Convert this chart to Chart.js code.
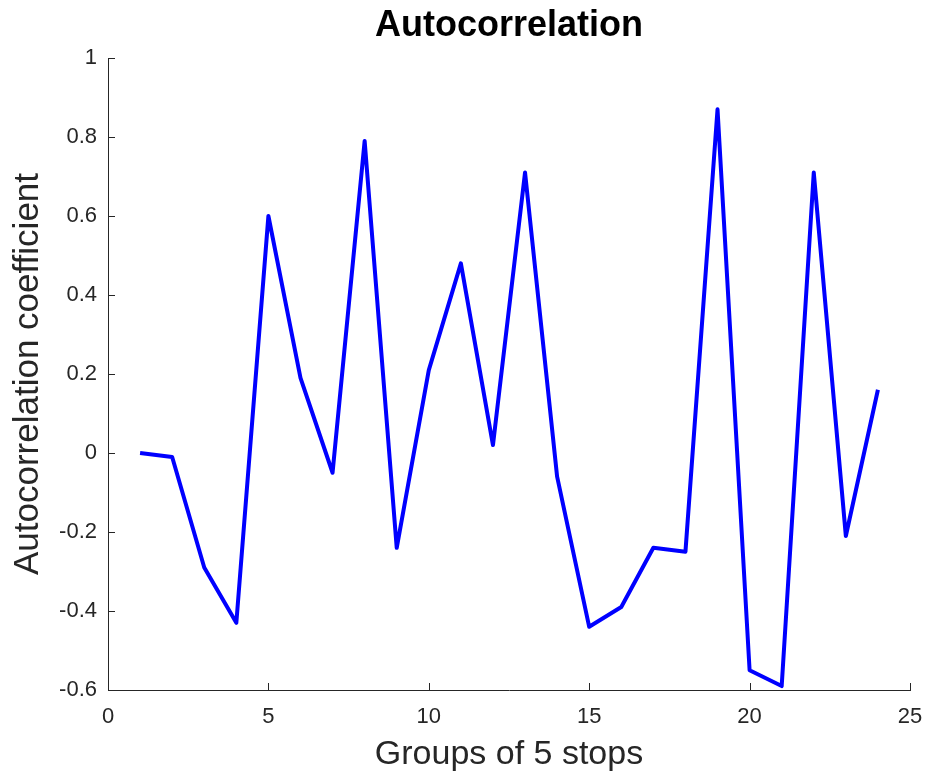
<!DOCTYPE html>
<html>
<head>
<meta charset="utf-8">
<script src="https://cdn.jsdelivr.net/npm/chart.js@4/dist/chart.umd.min.js"></script>
<style>
  html, body { margin: 0; padding: 0; background: #fff; }
  canvas { display: block; }
</style>
</head>
<body>
<canvas id="acf" width="930" height="780"></canvas>
<script>
const groups = [1, 2, 3, 4, 5, 6, 7, 8, 9, 10, 11, 12, 13, 14, 15, 16, 17, 18, 19, 20, 21, 22, 23, 24];
const coeffs = [0.0, -0.01, -0.29, -0.43, 0.60, 0.19, -0.05, 0.79, -0.24, 0.21, 0.48, 0.02,
                0.71, -0.06, -0.44, -0.39, -0.24, -0.25, 0.87, -0.55, -0.59, 0.71, -0.21, 0.16];
const xTicks = [0, 5, 10, 15, 20, 25];
const yTicks = [-0.6, -0.4, -0.2, 0, 0.2, 0.4, 0.6, 0.8, 1];
const chartTitle = "Autocorrelation";

const axisColor = "#262626";
const fontFamily = "'Liberation Sans', Arial, Helvetica, sans-serif";

// matlab style ticks pointing into the plot + title centred over the axes
const matlabAxes = {
  id: "matlabAxes",
  afterDraw(chart) {
    const ctx = chart.ctx;
    const xs = chart.scales.x;
    const ys = chart.scales.y;
    const len = 7;
    ctx.save();
    ctx.strokeStyle = axisColor;
    ctx.lineWidth = 1;
    ctx.beginPath();
    xTicks.forEach((t) => {
      const px = Math.round(xs.getPixelForValue(t)) + 0.5;
      ctx.moveTo(px, ys.bottom);
      ctx.lineTo(px, ys.bottom - len);
    });
    yTicks.forEach((t) => {
      const py = Math.round(ys.getPixelForValue(t)) + 0.5;
      ctx.moveTo(xs.left, py);
      ctx.lineTo(xs.left + len, py);
    });
    ctx.stroke();

    const area = chart.chartArea;
    ctx.fillStyle = "#000";
    ctx.font = "bold 36px " + fontFamily;
    ctx.textAlign = "center";
    ctx.textBaseline = "middle";
    ctx.fillText(chartTitle, (area.left + area.right) / 2, 26);
    ctx.restore();
  },
};

new Chart(document.getElementById("acf"), {
  type: "line",
  data: {
    datasets: [
      {
        data: groups.map((g, i) => ({ x: g, y: coeffs[i] })),
        borderColor: "#0000ff",
        borderWidth: 4,
        borderJoinStyle: "round",
        pointRadius: 0,
        tension: 0,
        fill: false,
      },
    ],
  },
  options: {
    responsive: false,
    animation: false,
    layout: { padding: { left: 0, right: 20, top: 58, bottom: 0 } },
    plugins: {
      legend: { display: false },
      tooltip: { enabled: false },
      title: { display: false },
    },
    scales: {
      x: {
        type: "linear",
        min: 0,
        max: 25,
        afterBuildTicks: (s) => { s.ticks = xTicks.map((v) => ({ value: v })); },
        afterFit: (s) => { s.height = 90; s.paddingRight = 0; s.paddingLeft = 0; },
        grid: { display: false, drawTicks: false },
        border: { display: true, color: axisColor, width: 1 },
        ticks: {
          color: axisColor,
          padding: 14,
          font: { family: fontFamily, size: 22 },
          maxRotation: 0,
        },
        title: {
          display: true,
          text: "Groups of 5 stops",
          color: axisColor,
          font: { family: fontFamily, size: 34 },
          padding: { top: 0, bottom: 5 },
        },
      },
      y: {
        type: "linear",
        min: -0.6,
        max: 1,
        afterBuildTicks: (s) => { s.ticks = yTicks.map((v) => ({ value: v })); },
        afterFit: (s) => { s.width = 108; },
        grid: { display: false, drawTicks: false },
        border: { display: true, color: axisColor, width: 1 },
        ticks: {
          color: axisColor,
          padding: 11,
          font: { family: fontFamily, size: 22 },
          callback: (v) => String(Math.round(v * 10) / 10),
        },
        title: {
          display: true,
          text: "Autocorrelation coefficient",
          color: axisColor,
          font: { family: fontFamily, size: 35 },
          padding: { top: 7, bottom: 0 },
        },
      },
    },
  },
  plugins: [matlabAxes],
});
</script>
</body>
</html>
